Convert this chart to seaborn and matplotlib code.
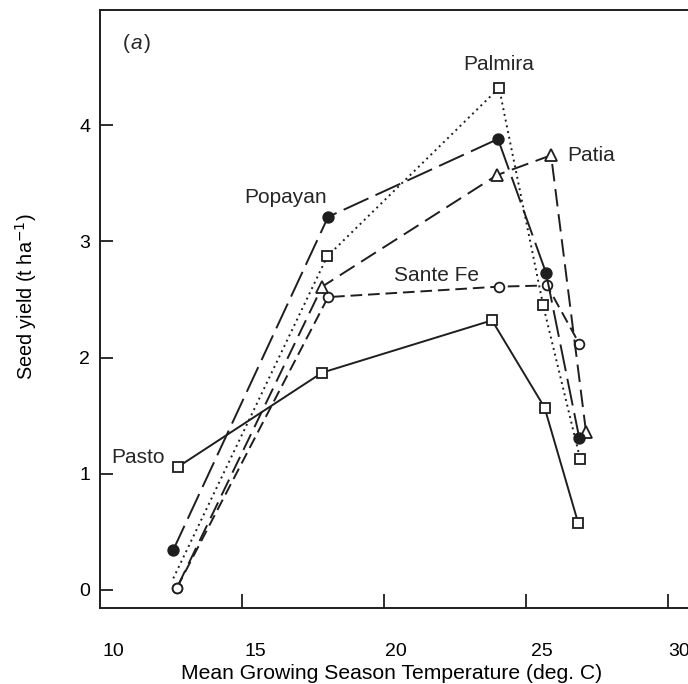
import matplotlib
matplotlib.use("Agg")
import matplotlib.pyplot as plt
import seaborn as sns
import pandas as pd

sns.set_theme(style="white")
plt.rcParams['font.family'] = ['Liberation Sans', 'DejaVu Sans']

# ---- data ----
popayan_x = [12.57, 18.03, 24.01, 25.70, 26.87]
popayan_y = [0.34, 3.21, 3.88, 2.73, 1.31]
palmira_x = [12.58, 18.00, 24.05, 25.60, 26.90]
palmira_y = [0.10, 2.87, 4.32, 2.45, 1.13]
patia_x = [12.73, 17.82, 23.98, 25.88, 27.11]
patia_y = [0.03, 2.61, 3.57, 3.74, 1.36]
santefe_x = [12.71, 18.03, 24.05, 25.74, 26.87]
santefe_y = [0.02, 2.52, 2.61, 2.62, 2.12]
pasto_x = [12.75, 17.82, 23.80, 25.65, 26.83]
pasto_y = [1.06, 1.87, 2.32, 1.57, 0.58]

x_ticks = [15, 20, 25, 30]
x_tick_labels = ["10", "15", "20", "25", "30"]
y_ticks = [0, 1, 2, 3, 4]

ink = "#1e1e1e"

fig = plt.figure(figsize=(6.88, 6.84), dpi=100)
ax = fig.add_axes([100/688, 1-608/684, 1-100/688, (608-10)/684])

lw = 1.4
series = [
    ("Pasto", pasto_x, pasto_y, dict(linestyle="-", marker="s", markersize=7.8,
                                     markerfacecolor="white"), None),
    ("Sante Fe", santefe_x, santefe_y, dict(linestyle=(0, (6, 3)), marker="o", markersize=7,
                                            markerfacecolor="white"), None),
    ("Patia", patia_x, patia_y, dict(linestyle=(0, (9, 4)), marker="^", markersize=8.8,
                                     markerfacecolor="white"), slice(1, None)),
    ("Palmira", palmira_x, palmira_y, dict(linestyle=(0, (1, 2)), marker="s", markersize=7.8,
                                           markerfacecolor="white"), slice(1, None)),
    ("Popayan", popayan_x, popayan_y, dict(linestyle=(0, (14, 4)), marker="o", markersize=7.6,
                                           markerfacecolor=ink), None),
]

for i, (name, xs, ys, kw, mev) in enumerate(series):
    df = pd.DataFrame({"temp": xs, "yield": ys})
    extra = {}
    if mev is not None:
        extra["markevery"] = mev
    sns.lineplot(data=df, x="temp", y="yield", ax=ax, color=ink, linewidth=lw,
                 markeredgecolor=ink, markeredgewidth=1.3, sort=False,
                 zorder=3 + i, **kw, **extra)

# the open circle of Sante Fe sits on top at the low-temperature end
sns.scatterplot(x=santefe_x[:1], y=santefe_y[:1], ax=ax, marker="o", s=49,
                facecolor="white", edgecolor=ink, linewidth=1.3, zorder=10)

ax.set_xlim(10, 30.7)
ax.set_ylim(-0.155, 4.99)

# tick marks (inward) at 15..30, labels slightly offset as in the scan
ax.set_xticks(x_ticks, minor=True)
ax.set_xticks([10.46, 15.46, 20.4, 25.55, 30.4])
ax.set_xticklabels(x_tick_labels)
ax.tick_params(axis="x", which="minor", direction="in", length=10, width=1.3,
               color=ink, bottom=True)
ax.tick_params(axis="x", which="major", length=0, pad=25, labelsize=14,
               labelcolor="black")
ax.set_yticks(y_ticks)
ax.tick_params(axis="y", direction="in", length=9, width=1.3, color=ink,
               left=True, pad=7, labelsize=14, labelcolor="black")

for side in ["left", "bottom", "top"]:
    ax.spines[side].set_color(ink)
    ax.spines[side].set_linewidth(1.4)
ax.spines["right"].set_visible(False)

ax.set_xlabel("Mean Growing Season Temperature (deg. C)", fontsize=15.2,
              color="black")
ax.set_ylabel("Seed yield (t ha$^{-1}$)", fontsize=14.3, color="black")
ax.xaxis.set_label_coords(0.496, -0.093)
ax.yaxis.set_label_coords(-0.103, 0.52)

fs = 15
ax.text(11.06, 4.70, "(", fontsize=fs, ha="right", va="center")
ax.text(11.06, 4.70, "a", fontsize=fs, ha="left", va="center", style="italic")
ax.text(11.06 + 0.5, 4.70, ")", fontsize=fs, ha="left", va="center")
ax.text(16.55, 3.38, "Popayan", fontsize=fs, ha="center", va="center")
ax.text(24.05, 4.52, "Palmira", fontsize=fs, ha="center", va="center")
ax.text(26.44, 3.74, "Patia", fontsize=fs, ha="left", va="center")
ax.text(21.83, 2.71, "Sante Fe", fontsize=fs, ha="center", va="center")
ax.text(12.29, 1.14, "Pasto", fontsize=fs, ha="right", va="center")

legend = ax.get_legend()
if legend is not None:
    legend.remove()

fig.savefig("out.png", dpi=100)
